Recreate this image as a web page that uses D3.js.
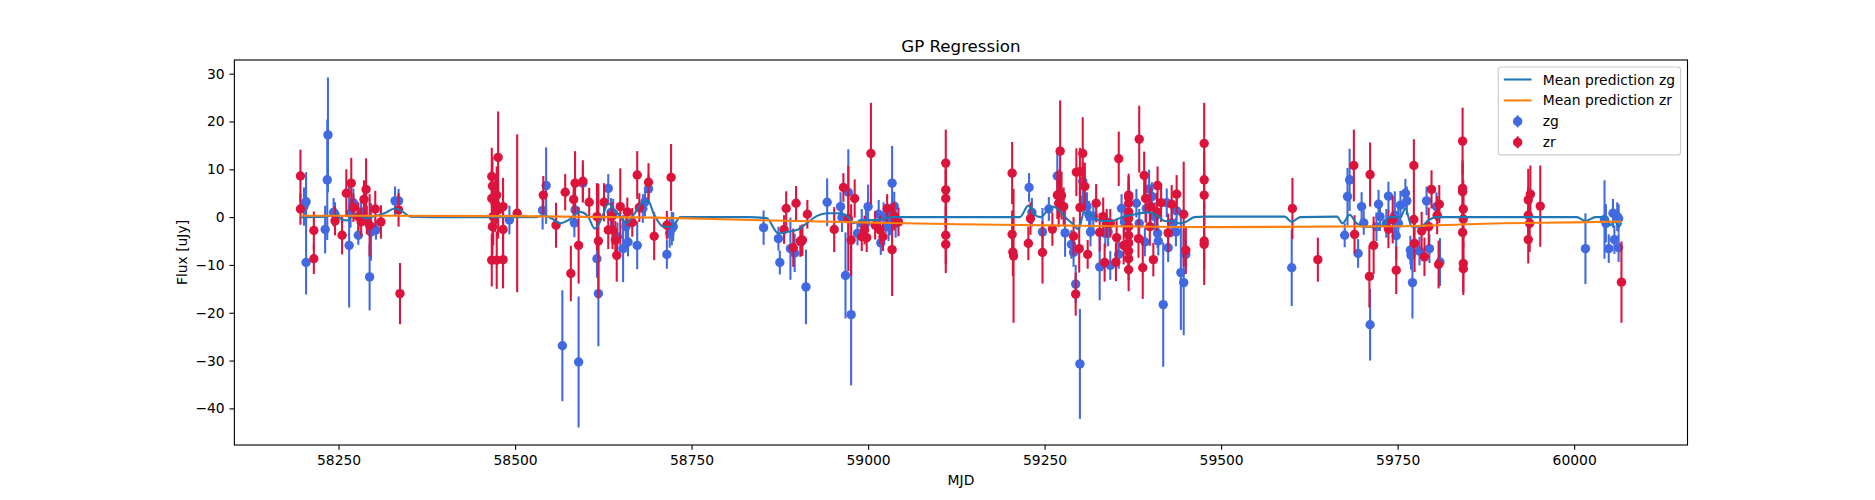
<!DOCTYPE html>
<html>
<head>
<meta charset="utf-8">
<script src="https://cdn.jsdelivr.net/npm/d3@7"></script>
<style>
  body { margin: 0; background: #fff; }
  text { font-family: "DejaVu Sans", sans-serif; }
</style>
</head>
<body>
<div id="wrapper"></div>
<script>
// [mjd, flux, err]
const zgPoints = [
  [58201, 2.2, 4], [58204, 3.2, 6.2], [58204, -9.5, 6.7], [58231, -2.6, 5], [58234, 7.8, 12.6],
  [58235, 17.2, 12.0], [58243, 1.0, 3], [58245, 0.6, 2.5], [58265, -5.9, 13], [58267, 0.8, 3],
  [58271, 3.0, 3], [58278, -3.8, 2], [58282, 1.1, 2.5], [58294, -12.5, 7], [58296, -3.1, 6],
  [58303, -2.7, 2], [58330, 3.4, 3], [58335, 3.4, 2.5],
  [58492, -0.6, 3], [58539, 1.4, 4], [58544, 6.6, 8], [58567, -26.9, 11.6], [58584, -1.2, 3],
  [58585, 1.5, 3], [58590, -30.3, 13.7], [58596, 7.1, 4], [58616, -8.7, 4], [58618, -16.0, 11],
  [58632, 6.0, 3], [58636, 1.0, 3], [58639, 0.8, 3], [58645, -4.1, 3], [58653, -6.6, 7],
  [58657, -2.0, 3], [58660, -5.2, 3], [58673, -5.9, 5], [58681, 1.8, 3], [58684, 3.2, 3],
  [58689, 5.9, 3], [58715, -7.8, 3], [58719, -3.4, 3], [58722, -2.4, 3.5], [58724, -2.0, 3],
  [58852, -2.2, 3.6], [58873, -4.5, 2.5], [58875, -9.5, 2.5], [58890, -6.6, 6.5], [58896, -7.5, 4],
  [58905, -5.2, 3], [58912, -14.6, 7.8], [58942, 3.1, 5], [58961, 2.2, 3], [58963, -0.1, 3],
  [58968, -12.2, 9], [58972, 5.2, 9], [58976, -20.4, 14.8], [58985, -3.4, 2.5], [58991, -1.3, 3],
  [58997, -1.2, 3], [59000, 2.2, 4.6], [59015, 0.6, 3], [59018, -5.4, 2.5], [59022, 0.1, 3],
  [59025, -0.3, 3], [59029, -2.0, 3], [59031, -0.8, 3], [59034, 7.1, 7.8], [59037, 2.3, 3],
  [59039, -1.3, 3],
  [59228, 6.2, 3], [59232, 1.0, 3], [59247, -3.1, 5], [59256, 1.7, 2.5], [59268, 8.6, 5],
  [59279, -3.3, 5], [59288, -5.7, 3], [59291, -7.4, 3], [59294, -14.0, 4], [59300, -30.7, 11.5],
  [59304, 7.5, 4], [59305, 3.6, 3], [59310, 2.2, 3], [59313, 0.4, 3], [59315, -3.1, 3],
  [59319, 0.2, 3], [59328, -10.4, 7], [59336, -3.4, 3], [59340, -3.1, 3], [59343, -10.1, 3],
  [59355, -7.8, 3], [59359, 1.8, 3], [59363, -1.0, 3], [59380, 2.9, 3], [59384, -1.3, 3],
  [59392, -5.2, 3], [59394, 1.8, 3], [59398, 5.9, 4], [59402, 4.3, 3], [59406, 0.1, 3],
  [59410, -3.4, 3], [59411, -5.0, 3], [59418, -18.3, 13], [59423, 3.0, 3], [59425, -6.4, 3],
  [59430, -1.2, 3], [59436, -3.1, 3], [59437, 1.3, 3], [59443, -11.6, 12], [59447, -13.7, 11],
  [59450, -7.8, 3],
  [59600, -10.6, 8], [59675, -3.8, 2.5], [59679, 4.3, 6], [59682, 7.8, 6.5], [59694, -7.6, 3],
  [59699, 2.2, 3], [59702, -1.2, 2.5], [59711, -22.5, 7.5], [59720, -2.0, 3], [59723, 2.7, 3],
  [59725, 0.1, 3], [59734, -1.3, 3], [59737, 4.4, 3], [59746, 0.4, 5], [59748, -3.9, 5],
  [59751, -1.3, 3], [59754, 2.5, 3], [59761, 5.0, 3], [59763, 3.4, 3], [59768, -6.9, 3],
  [59769, -8.0, 3], [59771, -13.7, 7.5], [59781, -7.1, 3], [59791, 3.4, 3], [59795, -6.6, 3],
  [59805, 2.2, 3], [59810, -9.4, 5],
  [60016, -6.6, 7.4], [60043, -0.5, 8.2], [60045, -1.3, 4], [60049, -6.6, 3], [60055, 0.8, 3],
  [60057, -4.7, 3], [60061, 0.1, 3], [60063, -0.3, 3], [60063, -6.4, 3]
];

const zrPoints = [
  [58196, 8.6, 5.5], [58196, 1.7, 3.3], [58215, -2.8, 4], [58215, -8.7, 3.2], [58245, -0.8, 3],
  [58255, -3.8, 4], [58261, 5.0, 5], [58268, 7.1, 5.3], [58271, 2.0, 3], [58278, 0.1, 3],
  [58282, -1.0, 3], [58286, 3.7, 4], [58289, 5.8, 6.5], [58290, -0.6, 3], [58294, -1.7, 6.5],
  [58302, 1.7, 3.8], [58310, -1.0, 3.5], [58335, 1.5, 3.5], [58337, -16.0, 6.4],
  [58467, 8.5, 6], [58468, 6.5, 6], [58467, 3.9, 6], [58469, 0.1, 6], [58468, -2.0, 6],
  [58467, -9.0, 5.5], [58476, 12.5, 9.6], [58474, 4.6, 6], [58476, 1.5, 6], [58472, 2.9, 6],
  [58483, 2.2, 6], [58483, -2.6, 6], [58483, -8.9, 6], [58474, -9.0, 6], [58503, 0.8, 16.5],
  [58540, 4.6, 4], [58558, -1.7, 4.7], [58571, 5.2, 3.8], [58579, -11.8, 5.8], [58583, 3.7, 4],
  [58585, 7.1, 6.7], [58590, -5.9, 8], [58596, 7.5, 4.4], [58605, 3.1, 3], [58616, 0.1, 7],
  [58618, -5.0, 12], [58626, 3.1, 4], [58632, -2.7, 4], [58637, 0.1, 3], [58638, -2.7, 4],
  [58642, -4.8, 4], [58644, -8.0, 5.5], [58649, 2.2, 8], [58659, 1.1, 3], [58666, -1.1, 3],
  [58673, 8.8, 5], [58676, 2.0, 3], [58689, 7.3, 4], [58697, -4.0, 5], [58715, -1.7, 3],
  [58721, 8.3, 7],
  [58881, -2.6, 3], [58884, 1.8, 3.6], [58894, -6.4, 4], [58898, 2.9, 3.6], [58904, -5.0, 3.3],
  [58907, -4.8, 3.3], [58914, 0.6, 3], [58952, -2.6, 4.7], [58965, 6.2, 3], [58972, -0.3, 11],
  [58976, -4.8, 7.5], [58981, 3.9, 4], [58991, -4.1, 3], [58995, -2.7, 3], [58998, -4.3, 3],
  [59004, 13.3, 10.6], [59010, -1.7, 3], [59017, -2.7, 3], [59021, -4.1, 3], [59027, 1.8, 3],
  [59034, -6.8, 9.7], [59037, 0.2, 3], [59043, -1.0, 3],
  [59110, 11.3, 7], [59110, 5.7, 6], [59110, 3.9, 6], [59110, -3.8, 6], [59110, -5.7, 6],
  [59204, 9.2, 6.5], [59204, -3.6, 5], [59205, -7.3, 5], [59206, -8.1, 14], [59227, -5.5, 3.5],
  [59230, -0.3, 3.4], [59247, -7.4, 6.5], [59261, -2.5, 3.5], [59268, 4.6, 5], [59272, 13.8, 10.6],
  [59271, 5.0, 5], [59274, 4.5, 5], [59277, 2.2, 4], [59270, 2.9, 5], [59291, -4.0, 4],
  [59295, 9.4, 5], [59300, 9.5, 5], [59304, 13.3, 7.6], [59307, 6.4, 5], [59300, 2.0, 4],
  [59299, -6.6, 5], [59294, -16.1, 4.5], [59311, -7.8, 3], [59323, 2.9, 4], [59328, -3.2, 4],
  [59333, 0.1, 4], [59335, -9.5, 4], [59338, -1.3, 3], [59343, -1.3, 3], [59352, -4.3, 4],
  [59351, -9.4, 4], [59355, 12.2, 5.7], [59362, -5.9, 4],
  [59369, 4.6, 4.5], [59369, 4.1, 4.5], [59369, 2.9, 4.5], [59369, 1.1, 4.5], [59369, -0.3, 4.5],
  [59369, -2.0, 4.5], [59369, -3.8, 4.5], [59369, -5.4, 4.5], [59369, -7.1, 4.5], [59369, -8.7, 4.5],
  [59369, -11.0, 4.5],
  [59384, 16.3, 7], [59391, 8.7, 5], [59393, 3.9, 5], [59383, -4.5, 4], [59389, -10.6, 6.5],
  [59400, 2.2, 4], [59399, -2.0, 4], [59404, -8.9, 3.5], [59410, 6.6, 4], [59409, 1.1, 4],
  [59415, 3.0, 4], [59425, -3.3, 4], [59430, 2.7, 4], [59437, 4.8, 4], [59447, 0.6, 11],
  [59450, -6.9, 5],
  [59476, 15.4, 8.5], [59476, 7.8, 6], [59476, 4.6, 6], [59476, -5.0, 6], [59476, -5.7, 8.5],
  [59601, 1.8, 6.4], [59637, -8.9, 4.6], [59688, 10.8, 7.5], [59689, -3.6, 4], [59711, 8.9, 6.7],
  [59710, -12.4, 6.5], [59716, -5.9, 6], [59737, -2.5, 4], [59743, -0.5, 5], [59748, -11.1, 5],
  [59773, 10.8, 5.5], [59773, -0.5, 6], [59774, -5.5, 6], [59784, -2.9, 4], [59788, -8.3, 4],
  [59794, -2.0, 4], [59798, 5.8, 4], [59806, 0.4, 4], [59809, 2.7, 4], [59808, -9.9, 5],
  [59842, 15.9, 7], [59842, 6.0, 6], [59842, 5.3, 6], [59843, 1.7, 6], [59843, -0.4, 6],
  [59842, -3.2, 6], [59843, -9.7, 6], [59843, -10.8, 5.5],
  [59935, 3.6, 6.5], [59938, 4.8, 6], [59935, 0.4, 6], [59937, -1.3, 6], [59935, -4.7, 5],
  [59952, 2.3, 8.5], [60067, -13.6, 8.5]
];

// GP mean prediction
const predZg = [
  [58196, 0], [58230, 0.1], [58245, 0.5], [58255, -0.5], [58262, -0.7], [58270, 0.4], [58280, 0.3],
  [58290, -0.3], [58300, 0.2], [58315, 0.8], [58330, 1.8], [58340, 1.2], [58352, 0.1], [58380, 0],
  [58530, 0], [58540, 0.4], [58552, -0.3], [58564, -1.3], [58576, -0.6], [58592, 1.1], [58603, 0.2],
  [58613, -2.4], [58622, -0.5], [58632, 2.8], [58644, 1.0], [58658, -1.2], [58668, 0.5], [58680, 3.0],
  [58688, 3.5], [58697, 0.5], [58710, -2.0], [58722, -2.0], [58734, 0], [58760, 0],
  [58830, 0], [58856, -0.2], [58873, -3.4], [58885, -3.1], [58899, -2.7], [58913, -1.3], [58927, 0.2],
  [58942, 0.8], [58960, 0.8], [58972, 0], [58979, -1.3], [58993, -0.6], [59012, -0.6], [59025, -0.2],
  [59036, 0], [59050, 0],
  [59200, 0], [59215, 0], [59227, 2.4], [59236, 0.5], [59244, 0], [59255, 1.5], [59262, 2.2],
  [59270, 1.5], [59281, -0.3], [59289, -1.3], [59298, -2.5], [59306, 1.0], [59315, 0.5], [59330, -0.8],
  [59345, -0.8], [59360, 0], [59375, 0.5], [59395, 1.0], [59410, 0.3], [59420, -0.8], [59430, -0.8],
  [59440, -1.3], [59450, -1.0], [59462, 0], [59477, 0.1],
  [59590, 0.1], [59600, -1.0], [59612, 0], [59664, 0.1], [59672, -1.3], [59682, 0.5], [59692, -1.3],
  [59706, -2.0], [59725, -2.0], [59739, 0], [59754, 0], [59761, 1.8], [59770, -2.0], [59782, -2.0],
  [59794, -0.6], [59805, 0],
  [60004, 0], [60016, -0.8], [60030, 0], [60042, 0], [60051, -1.7], [60058, -0.9], [60063, -2.0],
  [60067, -1.2]
];

const predZr = [
  [58196, 0.3], [58500, 0.2], [58700, -0.1], [58833, -0.6], [59022, -1.2], [59130, -1.5],
  [59300, -1.8], [59500, -2.1], [59750, -1.9], [59900, -1.3], [60000, -1.1], [60067, -0.9]
];

const xTicks = [58250, 58500, 58750, 59000, 59250, 59500, 59750, 60000];
const yTicks = [-40, -30, -20, -10, 0, 10, 20, 30];

const legendItems = [
  {label: "Mean prediction zg", kind: "line", color: "#1f77b4"},
  {label: "Mean prediction zr", kind: "line", color: "#ff7f0e"},
  {label: "zg", kind: "err", color: "royalblue"},
  {label: "zr", kind: "err", color: "crimson"}
];

const W = 1875, H = 500;
const axLeft = W * 0.125, axRight = W * 0.9, axTop = H * 0.12, axBottom = H * 0.89;
const fs = 13.89; // 10pt

const svg = d3.select("#wrapper").append("svg")
  .attr("width", W).attr("height", H)
  .style("background", "#fff");

// matplotlib style 5% margins
function padded(lo, hi) {
  const p = (hi - lo) * 0.05;
  return [lo - p, hi + p];
}
const allPts = zgPoints.concat(zrPoints);
const x = d3.scaleLinear()
  .domain(padded(d3.min(allPts, d => d[0]), d3.max(allPts, d => d[0])))
  .range([axLeft, axRight]);
const y = d3.scaleLinear()
  .domain(padded(d3.min(allPts, d => d[1] - d[2]), d3.max(allPts, d => d[1] + d[2])))
  .range([axBottom, axTop]);

const plot = svg.append("g");

function drawSeries(pts, color) {
  const g = plot.append("g");
  g.selectAll("line")
    .data(pts)
    .enter()
    .append("line")
    .attr("x1", d => x(d[0])).attr("x2", d => x(d[0]))
    .attr("y1", d => y(d[1] - d[2])).attr("y2", d => y(d[1] + d[2]))
    .attr("stroke", color)
    .attr("stroke-width", 2.08);
  g.selectAll("circle")
    .data(pts)
    .enter()
    .append("circle")
    .attr("cx", d => x(d[0]))
    .attr("cy", d => y(d[1]))
    .attr("r", 4.7)
    .attr("fill", color);
}
drawSeries(zgPoints, "royalblue");
drawSeries(zrPoints, "crimson");

const line = d3.line()
  .x(d => x(d[0]))
  .y(d => y(d[1]))
  .curve(d3.curveMonotoneX);

plot.append("path").datum(predZg)
  .attr("d", line).attr("fill", "none")
  .attr("stroke", "#1f77b4").attr("stroke-width", 2.08);
plot.append("path").datum(predZr)
  .attr("d", line).attr("fill", "none")
  .attr("stroke", "#ff7f0e").attr("stroke-width", 2.08);

// axes
const xAxis = svg.append("g")
  .attr("transform", `translate(0,${axBottom})`)
  .call(d3.axisBottom(x).tickValues(xTicks).tickFormat(d3.format("d"))
    .tickSize(4.86).tickPadding(4.86).tickSizeOuter(0));
const yAxis = svg.append("g")
  .attr("transform", `translate(${axLeft},0)`)
  .call(d3.axisLeft(y).tickValues(yTicks).tickFormat(d3.format("d"))
    .tickSize(4.86).tickPadding(4.86).tickSizeOuter(0));

[xAxis, yAxis].forEach(a => {
  a.select(".domain").remove();
  a.selectAll(".tick line").attr("stroke", "#000").attr("stroke-width", 1.11);
  a.selectAll(".tick text")
    .attr("fill", "#000")
    .style("font-family", "DejaVu Sans")
    .style("font-size", fs + "px");
});

svg.append("rect")
  .attr("x", axLeft).attr("y", axTop)
  .attr("width", axRight - axLeft).attr("height", axBottom - axTop)
  .attr("fill", "none").attr("stroke", "#000").attr("stroke-width", 1.11);

svg.append("text")
  .attr("x", (axLeft + axRight) / 2).attr("y", axTop - 8.33)
  .attr("text-anchor", "middle")
  .style("font-size", "16.67px")
  .text("GP Regression");

svg.append("text")
  .attr("x", (axLeft + axRight) / 2).attr("y", 485)
  .attr("text-anchor", "middle")
  .style("font-size", fs + "px")
  .text("MJD");

svg.append("text")
  .attr("transform", `translate(182,${(axTop + axBottom) / 2}) rotate(-90)`)
  .attr("text-anchor", "middle")
  .attr("dominant-baseline", "central")
  .style("font-size", fs + "px")
  .text("Flux [uJy]");

// legend, upper right
const pad = 0.4 * fs, handleLen = 2 * fs, textPad = 0.8 * fs, rowH = 14, rowGap = 0.5 * fs;
const legend = svg.append("g");
const box = legend.append("rect")
  .attr("rx", 2.8).attr("ry", 2.8)
  .attr("fill", "#fff").attr("fill-opacity", 0.8)
  .attr("stroke", "#cccccc").attr("stroke-width", 1.11);

const rows = legend.selectAll("g.row")
  .data(legendItems)
  .enter()
  .append("g")
  .attr("class", "row");

const labels = rows.append("text")
  .attr("dy", "0.36em")
  .style("font-size", fs + "px")
  .text(d => d.label);

let textW = 0;
labels.each(function() { textW = Math.max(textW, this.getComputedTextLength()); });

const boxW = 2 * pad + handleLen + textPad + textW;
const boxH = 2 * pad + legendItems.length * rowH + (legendItems.length - 1) * rowGap;
const bx = axRight - 0.5 * fs - boxW, by = axTop + 0.5 * fs;
box.attr("x", bx).attr("y", by).attr("width", boxW).attr("height", boxH);

rows.attr("transform", (d, i) => `translate(${bx + pad},${by + pad + rowH / 2 + i * (rowH + rowGap)})`);
labels.attr("x", handleLen + textPad);

rows.filter(d => d.kind === "line").append("line")
  .attr("x1", 0).attr("x2", handleLen)
  .attr("stroke", d => d.color).attr("stroke-width", 2.08);

const errRows = rows.filter(d => d.kind === "err");
errRows.append("line")
  .attr("x1", handleLen / 2).attr("x2", handleLen / 2)
  .attr("y1", -6).attr("y2", 6)
  .attr("stroke", d => d.color).attr("stroke-width", 2.08);
errRows.append("circle")
  .attr("cx", handleLen / 2).attr("r", 4.7)
  .attr("fill", d => d.color);
</script>
</body>
</html>
